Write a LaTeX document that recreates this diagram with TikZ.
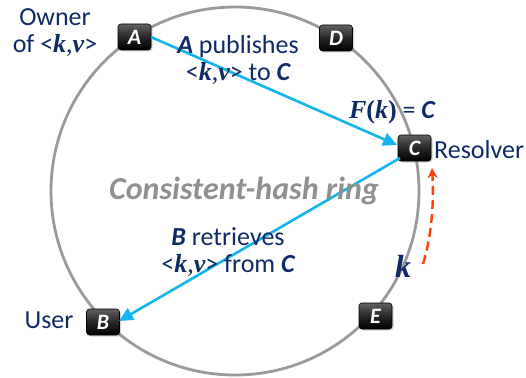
\documentclass[tikz,border=0pt]{standalone}
\usepackage{fontspec}
\setmainfont{Carlito}
\newfontfamily\mathish{Liberation Serif}
\usetikzlibrary{arrows.meta,shadows}
\definecolor{navy}{HTML}{0F2A66}
\definecolor{ringgray}{HTML}{9A9A9A}
\definecolor{labelgray}{HTML}{909090}
\definecolor{skyblue}{HTML}{14B4EC}
\definecolor{redorange}{HTML}{FF3D0F}
\newcommand{\kk}{{\mathish\bfseries\itshape k}}
\newcommand{\kv}{<{\mathish\bfseries\itshape k}{\mathish ,}{\mathish\bfseries\itshape v}>}
\newcommand{\bi}[1]{{\bfseries\itshape #1}}
\begin{document}
\begin{tikzpicture}[x=1pt,y=-1pt,
  peer/.style={rounded corners=3pt, minimum width=33pt, minimum height=26pt,
    top color=black!62, bottom color=black, middle color=black!85, draw=black, line width=0.6pt,
    text=white, font=\fontsize{22}{22}\selectfont\bfseries\itshape, inner sep=0pt,
    drop shadow={shadow xshift=1.5pt, shadow yshift=-1.5pt, opacity=0.35}},
  lbl/.style={text=navy, font=\fontsize{26}{27}\selectfont, align=center, inner sep=0pt},
  flow/.style={draw=skyblue, line width=2.6pt, -{Triangle[length=14pt,width=13pt]}}]
\useasboundingbox (0,0) rectangle (526,377);
\draw[ringgray, line width=2.8pt] (235,191) circle[radius=184];
\node[peer] (A) at (134.5,37) {A};
\node[peer] (D) at (336,38) {D};
\node[peer] (C) at (414.5,148) {C};
\node[peer] (B) at (103,322) {B};
\node[peer] (E) at (375.5,316) {E};
\coordinate (Aout) at (151,37);
\coordinate (Cin) at (397,145);
\coordinate (Cout) at (400,158);
\coordinate (Bin) at (119,321);
\draw[flow] (Aout) -- (Cin);
\draw[flow] (Cout) -- (Bin);
\node[text=labelgray, font=\fontsize{32}{32}\selectfont\bfseries\itshape, inner sep=0pt] (ring) at (244,191) {Consistent-hash ring};
\node[lbl] (owner) at (55,33) {Owner\\of \kv};
\node[lbl] (pub) at (238,60) {\bi{A} publishes\\\kv{} to \bi{C}};
\node[lbl] (fk) at (392,112) {{\mathish\bfseries\itshape F}{\mathish\bfseries(}{\mathish\bfseries\itshape k}{\mathish\bfseries)} = \bi{C}};
\node[lbl, anchor=west] (res) at (434,150) {Resolver};
\node[lbl] (ret) at (228,252) {\bi{B} retrieves\\\kv{} from \bi{C}};
\node[lbl, font=\fontsize{32}{32}\selectfont] (k) at (403,266) {\kk};
\node[lbl] (user) at (49,320) {User};
\coordinate (rs) at (423,264);
\coordinate (re) at (432,168);
\draw[redorange, line width=2.4pt, dash pattern=on 9pt off 5pt, -{Stealth[length=10pt,width=10pt]}] (rs) .. controls (432,235) and (434,200) .. (re);
\end{tikzpicture}
\end{document}
